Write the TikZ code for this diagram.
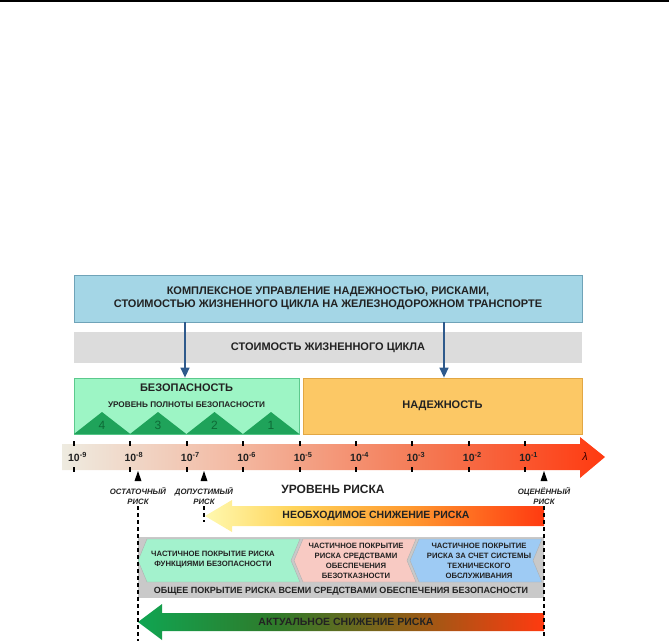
\documentclass[tikz,border=0pt]{standalone}
\usepackage{fontspec}
\setmainfont{Liberation Sans}
\usetikzlibrary{arrows.meta}
\definecolor{titlefill}{HTML}{A4D6E6}
\definecolor{titleline}{HTML}{6FA3B8}
\definecolor{bandgray}{HTML}{DCDCDC}
\definecolor{greenfill}{HTML}{9DF5C5}
\definecolor{greenline}{HTML}{5CC98D}
\definecolor{trigreen}{HTML}{1FA35A}
\definecolor{trinum}{HTML}{0E6A36}
\definecolor{orangefill}{HTML}{FCC865}
\definecolor{orangeline}{HTML}{E2A744}
\definecolor{arrowblue}{HTML}{2F5A8C}
\definecolor{covgray}{HTML}{C9C9C9}
\definecolor{chevgreen}{HTML}{A3F2CD}
\definecolor{chevpink}{HTML}{F8CAC3}
\definecolor{chevblue}{HTML}{9ECBF4}
\definecolor{chevline}{HTML}{B0B0B0}
\definecolor{textdark}{HTML}{222222}
\definecolor{axA}{HTML}{EEEBE0}
\definecolor{axB}{HTML}{F3BCA6}
\definecolor{axC}{HTML}{F47A55}
\definecolor{axD}{HTML}{FF3A10}
\definecolor{ndA}{HTML}{FFF9B0}
\definecolor{ndB}{HTML}{FFD45A}
\definecolor{ndC}{HTML}{FF9A30}
\definecolor{ndD}{HTML}{FF3A10}
\definecolor{acA}{HTML}{10A552}
\definecolor{acB}{HTML}{2F7A2A}
\definecolor{acC}{HTML}{9A5A15}
\definecolor{acD}{HTML}{FF3A10}
\pgfdeclarehorizontalshading{axisgrad}{100bp}{color(0bp)=(axA); color(25bp)=(axA); color(40bp)=(axB); color(58bp)=(axC); color(75bp)=(axD); color(100bp)=(axD)}
\pgfdeclarehorizontalshading{needgrad}{100bp}{color(0bp)=(ndA); color(25bp)=(ndA); color(38bp)=(ndB); color(55bp)=(ndC); color(75bp)=(ndD); color(100bp)=(ndD)}
\pgfdeclarehorizontalshading{actgrad}{100bp}{color(0bp)=(acA); color(25bp)=(acA); color(42bp)=(acB); color(60bp)=(acC); color(75bp)=(acD); color(100bp)=(acD)}
\tikzset{
  txt/.style={text=textdark, inner sep=0pt, align=center},
  bigbold/.style={txt, font=\fontsize{11}{13}\selectfont\bfseries},
  smallbold/.style={txt, font=\fontsize{8.2}{10}\selectfont\bfseries},
  chevtext/.style={txt, font=\fontsize{7.7}{10}\selectfont\bfseries},
  ticklbl/.style={txt, font=\fontsize{10.5}{12}\selectfont\bfseries, anchor=base},
  marklbl/.style={txt, font=\fontsize{7.8}{10.5}\selectfont\bfseries\itshape},
  dashline/.style={black, line width=1.1pt, dash pattern=on 4pt off 3pt},
  bluearrow/.style={arrowblue, line width=1.4pt, -{Triangle[length=10pt,width=9pt]}},
}
\begin{document}
\begin{tikzpicture}[x=1pt,y=-1pt]
\useasboundingbox (0,0) rectangle (669,641);
\fill[black] (0,0) rectangle (669,1.6);
% title
\node[draw=titleline, fill=titlefill, line width=0.8pt, minimum width=508pt, minimum height=47pt, bigbold] (title) at (328,298.5)
  {КОМПЛЕКСНОЕ УПРАВЛЕНИЕ НАДЕЖНОСТЬЮ, РИСКАМИ,\\СТОИМОСТЬЮ ЖИЗНЕННОГО ЦИКЛА НА ЖЕЛЕЗНОДОРОЖНОМ ТРАНСПОРТЕ};
\node[fill=bandgray, minimum width=508pt, minimum height=31pt, bigbold] (lcc) at (328,347.5) {СТОИМОСТЬ ЖИЗНЕННОГО ЦИКЛА};
% safety box
\node[draw=greenline, fill=greenfill, line width=0.8pt, minimum width=225pt, minimum height=56pt, inner sep=0pt] (safety) at (186.5,406) {};
\foreach \a/\n in {74/4,130/3,186.5/2,243/1}{
  \fill[trigreen] (\a,434) -- (\a+28,412) -- (\a+56.3,434) -- cycle;
  \node[text=trinum, font=\fontsize{12}{13}\selectfont, inner sep=0pt] (sil\n) at (\a+28,425) {\n};
}
\node[bigbold] (safetyt) at (186.5,388) {БЕЗОПАСНОСТЬ};
\node[smallbold] (silt) at (186.5,404.5) {УРОВЕНЬ ПОЛНОТЫ БЕЗОПАСНОСТИ};
\node[draw=orangeline, fill=orangefill, line width=0.8pt, minimum width=279pt, minimum height=56pt, bigbold] (rel) at (442.5,406) {НАДЕЖНОСТЬ};
% blue arrows
\coordinate (ax1) at (185,0);
\coordinate (ax2) at (444,0);
\draw[bluearrow] (title.south -| ax1) -- (safety.north -| ax1);
\draw[bluearrow] (title.south -| ax2) -- (rel.north -| ax2);
% risk axis
\shade[shading=axisgrad] (62,444) -- (580,444) -- (580,437) -- (605,457) -- (580,478) -- (580,470) -- (62,470) -- cycle;
\foreach \i/\e in {0/9,1/8,2/7,3/6,4/5,5/4,6/3,7/2,8/1}{
  \pgfmathsetmacro{\xx}{74+56.4*\i}
  \fill[black] (\xx-1,441) rectangle (\xx+1,446);
  \fill[black] (\xx-1,467) rectangle (\xx+1,472);
  \node[ticklbl] (t\e) at (\xx,461.5) {10\rlap{\textsuperscript{-\e}}};
}
\node[text=black!75!red, font=\fontsize{11}{12}\selectfont\itshape, inner sep=0pt] (lam) at (585,457) {λ};
\node[txt, font=\fontsize{12}{14}\selectfont\bfseries] (lvl) at (333,489) {УРОВЕНЬ РИСКА};
% markers
\foreach \x in {138,204,544}{
  \fill[black] (\x-3.5,481) -- (\x,471) -- (\x+3.5,481) -- cycle;
}
\node[marklbl] (resl) at (138,496) {ОСТАТОЧНЫЙ\\РИСК};
\node[marklbl] (toll) at (204,496) {ДОПУСТИМЫЙ\\РИСК};
\node[marklbl] (estl) at (544,496) {ОЦЕНЁННЫЙ\\РИСК};
% coverage band
\fill[covgray] (138,537) rectangle (544,598);
\fill[chevgreen, draw=chevline, line width=0.4pt] (138,560.5) -- (147,539) -- (300,539) -- (291,560.5) -- (300,582) -- (147,582) -- cycle;
\fill[chevpink, draw=chevline, line width=0.4pt] (294,560.5) -- (303,539) -- (416,539) -- (407,560.5) -- (416,582) -- (303,582) -- cycle;
\fill[chevblue, draw=chevline, line width=0.4pt] (410,560.5) -- (419,539) -- (542,539) -- (533,560.5) -- (542,582) -- (419,582) -- cycle;
\node[chevtext] (c1) at (213,559.5) {ЧАСТИЧНОЕ ПОКРЫТИЕ РИСКА\\ФУНКЦИЯМИ БЕЗОПАСНОСТИ};
\node[chevtext] (c2) at (356,560.5) {ЧАСТИЧНОЕ ПОКРЫТИЕ\\РИСКА СРЕДСТВАМИ\\ОБЕСПЕЧЕНИЯ\\БЕЗОТКАЗНОСТИ};
\node[chevtext] (c3) at (479,560.5) {ЧАСТИЧНОЕ ПОКРЫТИЕ\\РИСКА ЗА СЧЕТ СИСТЕМЫ\\ТЕХНИЧЕСКОГО\\ОБСЛУЖИВАНИЯ};
\node[txt, font=\fontsize{9}{11}\selectfont\bfseries] (cov) at (341,591) {ОБЩЕЕ ПОКРЫТИЕ РИСКА ВСЕМИ СРЕДСТВАМИ ОБЕСПЕЧЕНИЯ БЕЗОПАСНОСТИ};
% reduction arrows
\shade[shading=needgrad] (205,516) -- (232,500) -- (232,506) -- (544,506) -- (544,526) -- (232,526) -- (232,532) -- cycle;
\node[txt, font=\fontsize{10.5}{12}\selectfont\bfseries] (need) at (376,516) {НЕОБХОДИМОЕ СНИЖЕНИЕ РИСКА};
\shade[shading=actgrad] (138,622) -- (162,604) -- (162,613) -- (544,613) -- (544,631) -- (162,631) -- (162,640) -- cycle;
\node[txt, font=\fontsize{10.5}{12}\selectfont\bfseries] (act) at (346,622) {АКТУАЛЬНОЕ СНИЖЕНИЕ РИСКА};
% dashed guides
\draw[dashline] (138,506) -- (138,641);
\draw[dashline] (204,506) -- (204,522);
\draw[dashline] (544,506) -- (544,638);
\end{tikzpicture}
\end{document}
